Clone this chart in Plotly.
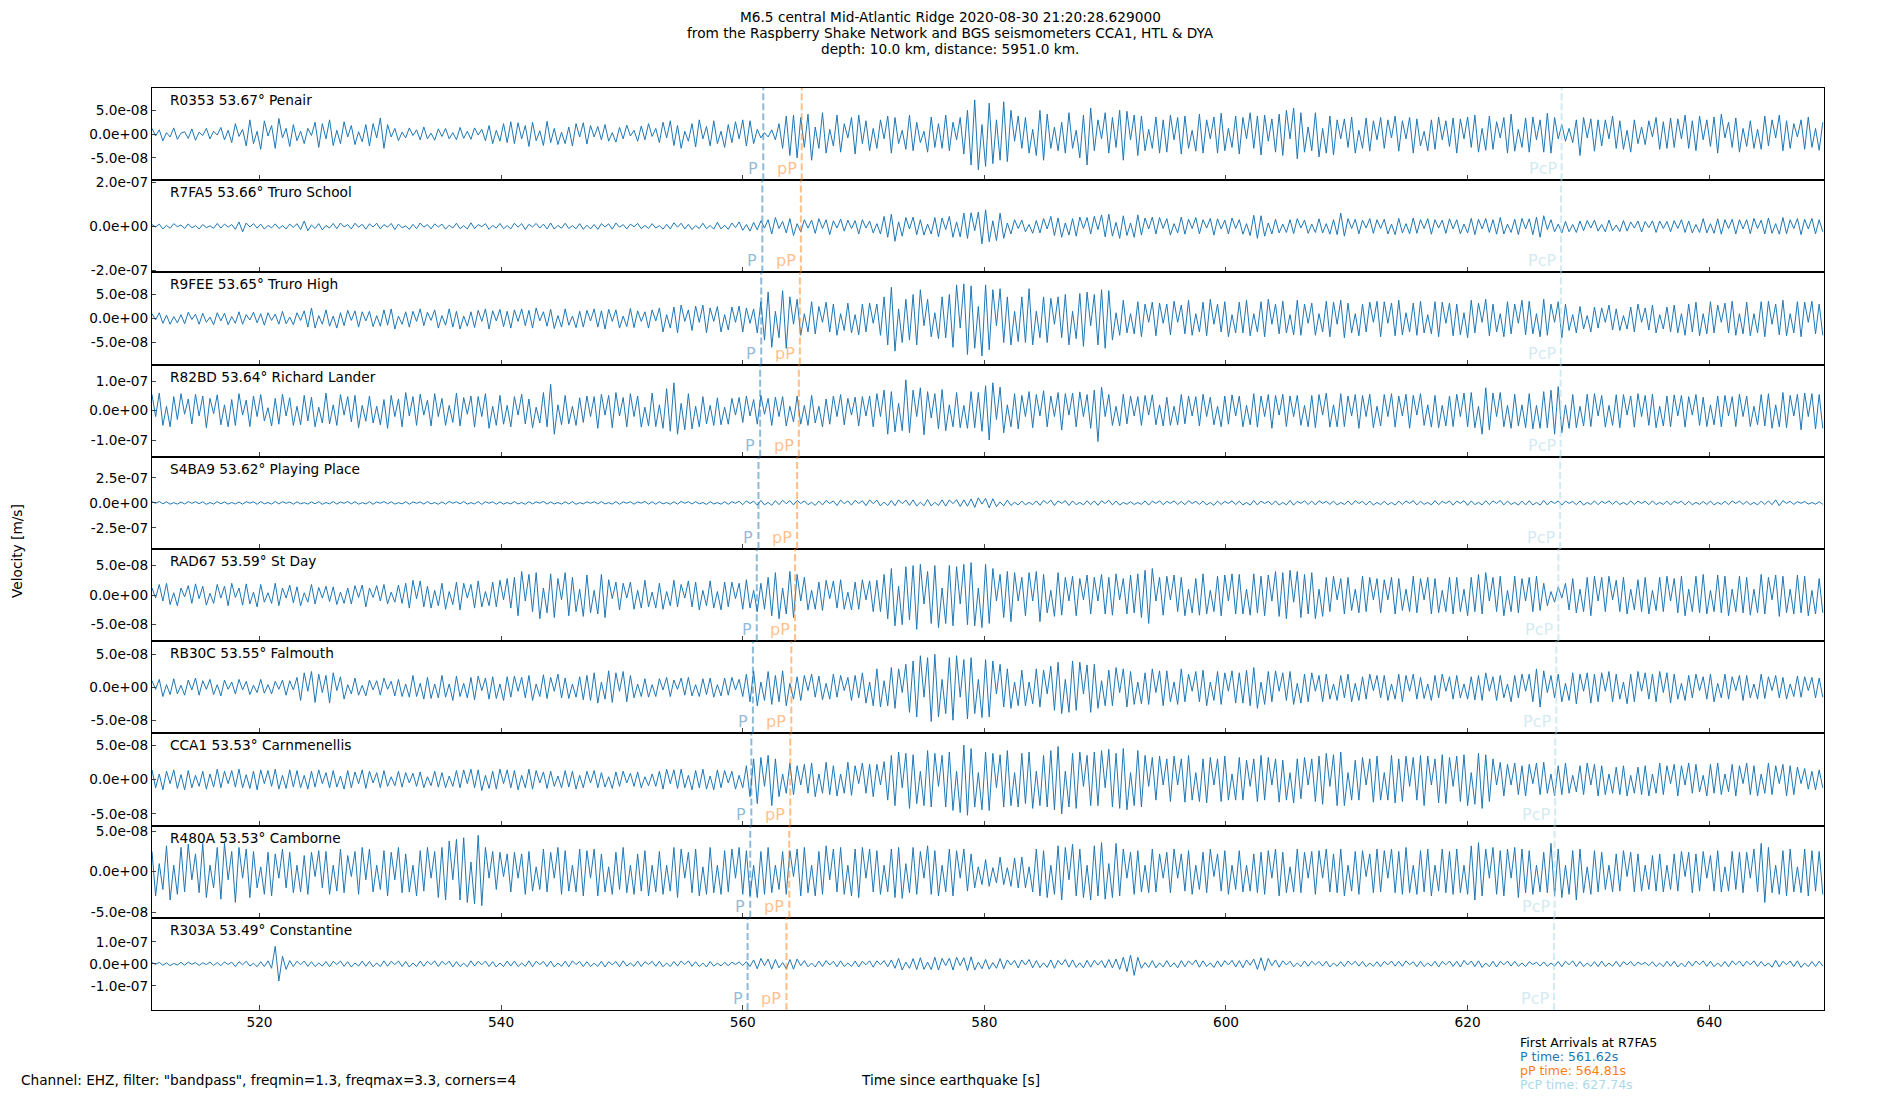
import plotly.graph_objects as go
from plotly.subplots import make_subplots

# sampling of the traces (seconds since the earthquake)
t_start = 511.1
dt = 0.3

stations = ["R0353", "R7FA5", "R9FEE", "R82BD", "S4BA9",
            "RAD67", "RB30C", "CCA1", "R480A", "R303A"]
distances = [53.67, 53.66, 53.65, 53.64, 53.62, 53.59, 53.55, 53.53, 53.53, 53.49]
places = ["Penair", "Truro School", "Truro High", "Richard Lander", "Playing Place",
          "St Day", "Falmouth", "Carnmenellis", "Camborne", "Constantine"]

p_times = [561.70, 561.62, 561.53, 561.44, 561.30, 561.16, 560.84, 560.71, 560.62, 560.40]
pp_times = [564.88, 564.81, 564.73, 564.64, 564.50, 564.33, 564.02, 563.93, 563.85, 563.62]
pcp_times = [627.78, 627.74, 627.72, 627.70, 627.66, 627.51, 627.34, 627.25, 627.20, 627.15]

tick_steps = [5e-8, 2e-7, 5e-8, 1e-7, 2.5e-7, 5e-8, 5e-8, 5e-8, 5e-8, 1e-7]

# velocity traces in nm/s
r0353 = [
    12,-4,9,-14,3,-6,13,-11,2,5,-9,11,-13,4,-3,12,-10,6,-2,14,
    -12,8,-18,22,-5,10,-25,30,-20,6,-32,28,-4,18,-30,33,-8,12,-26,20,
    -14,6,-20,12,-3,25,-28,22,-10,30,-24,8,-20,26,-6,18,-22,5,-16,20,
    -25,22,-8,34,-30,20,-6,12,-14,4,-8,13,-3,9,-12,15,-10,2,-13,11,
    -5,12,-10,3,-12,14,-9,6,-11,13,-2,10,-14,18,-20,8,-15,22,-18,26,
    -20,24,-10,18,-26,25,-14,7,-24,27,-18,12,-22,4,-20,15,-25,22,-6,24,
    -21,18,-6,16,-12,20,-15,3,-17,14,-10,19,-4,8,-15,17,-12,22,-5,12,
    -18,25,-8,28,-24,18,-30,6,-15,22,-27,30,-10,16,-25,28,-20,6,-28,20,
    -18,26,-10,30,-25,28,-20,10,-8,3,-6,9,-12,22,-30,38,-45,40,-50,35,
    -28,42,-55,15,-30,45,-40,10,-25,40,-38,22,-8,35,-42,40,-20,28,-35,12,
    -30,30,-10,38,-40,35,-20,8,-32,40,-35,25,-18,6,-38,36,-28,22,-30,40,
    -35,25,-12,35,-42,50,-65,72,-75,20,-68,65,-62,30,-55,68,-58,50,-15,38,
    -30,35,-40,10,-45,50,-55,42,-30,15,-35,25,-40,45,-30,8,-50,40,-65,55,
    -35,30,-10,45,-40,35,-28,50,-55,48,-12,40,-45,38,-35,10,-30,36,-40,30,
    -38,40,-12,35,-42,38,-30,8,-36,42,-40,30,-10,36,-40,44,-35,12,-28,38,
    -42,35,-10,45,-30,38,-44,40,-15,32,-38,42,-45,50,-10,55,-52,45,-38,15,
    -35,45,-48,12,-40,38,-44,30,-10,32,-28,36,-40,8,-30,34,-36,28,-12,35,
    -30,30,-8,38,-36,28,-10,35,-40,32,-25,6,-35,30,-32,36,-12,28,-26,34,
    -40,32,-10,36,-28,40,-38,12,-34,38,-32,26,-8,35,-40,42,-36,10,-28,34,
    -38,36,-12,30,-38,44,-40,35,-10,20,-15,12,-18,30,-45,35,-8,32,-36,30,
    -25,30,-10,38,-30,28,-32,8,-38,30,-20,15,-22,28,-6,35,-32,26,-30,34,
    -28,32,-10,40,-30,28,-35,38,-12,30,-26,36,-40,42,-8,25,-28,34,-38,12,
    -26,28,-30,10,-32,38,-25,30,-8,40,-35,28,-30,22,-6,30,-32,36,-28,12,
    -34,25,
]
r7fa5 = [
    8,-3,10,-12,4,-9,12,-2,6,-10,11,-7,3,-12,8,-6,2,-9,13,-8,
    10,-4,8,-14,20,-25,15,-3,12,-8,10,-13,4,-7,11,-10,3,-12,10,-5,
    12,-15,24,-20,6,-10,12,-16,4,-8,13,-11,15,-3,8,-12,14,-4,9,-13,
    11,-3,14,-12,8,-4,13,-15,10,-7,2,-14,9,-11,15,-4,8,-12,11,-3,
    10,-13,5,-8,14,-11,3,-12,16,-10,8,-2,12,-14,4,-8,13,-11,3,-12,
    14,-4,12,-15,9,-3,13,-8,10,-12,15,-13,4,-9,14,-10,3,-11,12,-14,
    5,-12,8,-14,12,-3,11,-13,15,-4,8,-12,10,-2,13,-11,4,-10,12,-8,
    3,-13,9,-12,16,-4,14,-12,9,-15,3,-10,14,-11,4,-13,18,-12,5,-14,
    15,-6,20,-18,8,-22,18,-16,25,-8,30,-35,40,-10,22,-30,35,-42,12,-25,
    30,-8,28,-32,35,-10,30,-38,25,-8,33,-22,28,-10,26,-35,30,-8,24,-30,
    12,-35,45,-50,55,-68,20,-45,40,-12,42,-38,30,-40,10,-35,40,-48,38,-15,
    45,-50,20,-48,60,-55,62,-20,65,-80,75,-70,25,-65,60,-55,15,-35,30,-10,
    28,-25,8,-32,26,-30,35,-12,45,-42,38,-50,15,-40,35,-45,42,-10,40,-35,
    45,-15,52,-48,55,-45,18,-55,48,-42,15,-50,52,-40,38,-12,42,-35,40,-10,
    35,-40,12,-30,42,-36,32,-10,40,-34,30,-8,36,-40,34,-12,28,-35,38,-10,
    30,-36,12,-42,50,-55,48,-45,15,-35,32,-30,10,-28,30,-33,35,-8,28,-32,
    10,-28,34,-30,12,-36,30,-38,60,-45,35,-10,32,-34,28,-8,35,-32,30,-10,
    32,-35,10,-38,36,-30,12,-34,38,-32,30,-10,35,-36,30,-8,28,-32,34,-12,
    30,-34,10,-30,36,-38,32,-12,35,-28,30,-36,40,-35,10,-28,32,-38,36,-12,
    34,-38,42,-50,48,-15,30,-25,10,-30,22,-25,8,-28,24,-20,26,-8,28,-22,
    8,-25,28,-20,6,-24,26,-22,20,-8,24,-26,22,-6,25,-28,24,-10,22,-25,
    26,-10,30,-28,24,-30,8,-28,35,-30,12,-32,34,-36,30,-10,32,-35,30,-12,
    30,-34,36,-10,28,-35,38,-32,12,-36,40,-34,30,-10,35,-38,32,-12,36,-34,
    30,-25,
]
r9fee = [
    10,-3,12,-10,7,-12,4,-9,8,-11,13,-2,9,-12,11,-8,3,-13,12,-5,
    11,-13,4,-10,14,-12,8,-3,13,-9,10,-14,12,-4,9,-12,15,-11,3,-13,
    12,-4,16,-18,22,-20,6,-12,18,-16,5,-20,12,-15,17,-4,16,-18,14,-5,
    15,-17,6,-16,18,-14,20,-22,5,-12,14,-18,15,-6,20,-15,13,-4,18,-20,
    6,-14,20,-18,15,-22,5,-16,14,-19,17,-6,20,-22,16,-5,19,-17,15,-20,
    18,-6,20,-15,17,-20,22,-5,14,-16,19,-21,6,-18,20,-14,5,-19,15,-18,
    17,-5,20,-18,16,-22,19,-6,18,-20,5,-17,21,-19,16,-6,14,-20,18,-5,
    22,-28,8,-20,24,-30,28,-6,18,-25,26,-8,28,-30,22,-6,25,-28,8,-24,
    24,-8,26,-28,22,-10,20,-30,35,-45,55,-60,15,-40,58,-62,45,-12,40,-35,
    10,-28,35,-32,25,-8,34,-28,30,-35,10,-25,32,-30,8,-34,30,-28,32,-10,
    30,-35,45,-55,65,-68,20,-50,40,-45,50,-55,60,-15,40,-38,12,-42,45,-40,
    50,-60,70,-20,72,-75,68,-62,25,-78,70,-65,60,-15,62,-50,45,-55,15,-48,
    45,-50,62,-55,15,-40,45,-50,42,-12,45,-40,50,-55,15,-42,52,-58,55,-15,
    50,-55,60,-62,58,-45,12,-35,38,-30,10,-32,35,-38,30,-8,34,-36,32,-10,
    30,-34,36,-8,28,-32,38,-35,10,-28,34,-36,40,-12,30,-28,35,-38,8,-30,
    34,-30,38,-36,10,-28,35,-38,40,-12,30,-32,36,-30,8,-34,38,-35,30,-10,
    32,-35,10,-28,36,-38,34,-12,38,-40,32,-30,10,-36,30,-28,34,-8,36,-38,
    35,-10,32,-36,38,-34,12,-28,32,-35,36,-30,8,-32,35,-38,34,-10,32,-36,
    30,-34,12,-40,38,-30,32,-8,40,-36,30,-28,10,-38,35,-32,30,-10,38,-34,
    36,-32,10,-38,40,-35,30,-8,35,-40,30,-25,8,-30,25,-22,6,-28,24,-20,
    22,-8,28,-24,20,-25,6,-22,24,-28,30,-8,22,-24,28,-30,8,-22,24,-28,
    28,-30,10,-35,30,-28,34,-36,10,-32,35,-30,28,-8,32,-30,36,-35,10,-32,
    34,-36,10,-30,35,-38,36,-12,30,-34,38,-36,10,-30,35,-38,34,-8,36,-32,
    30,-35,
]
r82bd = [
    55,-20,60,-50,15,-55,48,-30,58,-12,40,-45,56,-18,50,-58,42,-10,54,-48,
    20,-55,38,-50,58,-15,36,-54,50,-20,55,-35,10,-52,42,-46,56,-18,44,-50,
    15,-48,52,-35,46,-55,12,-42,60,-45,20,-50,55,-15,48,-38,52,-58,18,-36,
    50,-42,15,-48,38,-60,52,-20,40,-55,62,-18,48,-50,56,-15,36,-52,58,-20,
    42,-50,18,-40,60,-52,45,-12,50,-56,48,-20,58,-60,15,-50,52,-46,18,-55,
    48,-15,56,-45,40,-58,12,-42,62,-55,90,-80,20,-48,52,-45,15,-50,44,-40,
    50,-20,48,-60,56,-15,52,-58,62,-18,45,-55,58,-20,50,-56,12,-52,60,-54,
    20,-60,75,-70,95,-80,25,-65,58,-62,15,-55,48,-45,18,-50,44,-48,12,-46,
    42,-15,45,-40,50,-18,38,-46,52,-12,42,-50,46,-20,48,-52,15,-38,50,-46,
    18,-50,52,-42,15,-55,40,-46,50,-20,55,-48,42,-15,46,-52,48,-18,50,-55,
    58,-20,70,-80,65,-72,25,-68,105,-75,70,-20,78,-82,65,-25,58,-62,72,-68,
    20,-55,62,-58,18,-60,65,-58,62,-70,85,-100,95,-30,80,-75,20,-55,58,-62,
    52,-20,65,-58,55,-18,68,-55,50,-20,62,-66,58,-15,60,-55,64,-20,55,-60,
    70,-105,80,-20,55,-50,15,-52,56,-45,50,-18,48,-50,52,-15,54,-48,20,-52,
    46,-50,15,-48,55,-45,50,-18,48,-52,56,-20,46,-48,15,-55,50,-46,54,-18,
    50,-55,18,-48,58,-56,50,-20,55,-60,52,-15,56,-54,50,-20,52,-50,18,-55,
    52,-58,55,-15,60,-56,20,-55,58,-54,50,-18,55,-60,52,-20,56,-58,15,-52,
    55,-20,58,-56,50,-18,56,-60,52,-15,58,-50,20,-56,52,-58,18,-52,50,-54,
    56,-20,60,-55,62,-58,15,-80,78,-65,60,-20,62,-55,18,-60,56,-52,20,-58,
    58,-62,18,-60,65,-58,70,-80,82,-75,20,-60,55,-58,15,-52,56,-54,58,-18,
    52,-56,18,-50,54,-58,55,-15,50,-56,58,-20,52,-50,56,-58,15,-52,50,-55,
    54,-18,52,-56,48,-15,55,-50,46,-54,20,-48,50,-55,52,-18,48,-54,56,-20,
    50,-54,15,-48,55,-52,58,-60,20,-55,62,-58,52,-18,56,-65,60,-20,58,-62,
    55,-60,
]
s4ba9 = [
    12,-4,14,-9,11,-13,3,-12,9,-11,13,-4,12,-8,11,-14,4,-12,13,-9,
    10,-12,4,-11,9,-13,12,-3,11,-14,13,-9,4,-12,14,-11,12,-4,9,-13,
    11,-10,3,-12,10,-9,12,-14,4,-10,13,-12,9,-4,14,-10,12,-13,3,-11,
    12,-14,10,-4,13,-9,11,-12,3,-10,12,-13,10,-4,9,-12,13,-10,4,-14,
    10,-12,15,-4,11,-10,14,-12,3,-11,13,-15,12,-4,11,-13,10,-12,4,-11,
    13,-11,4,-14,12,-10,11,-3,15,-12,10,-11,4,-12,11,-10,13,-14,3,-10,
    11,-4,12,-10,14,-11,3,-12,13,-14,11,-4,12,-13,10,-3,14,-12,11,-13,
    12,-10,4,-13,11,-12,15,-4,12,-11,13,-10,4,-15,12,-11,3,-13,12,-14,
    12,-4,16,-18,20,-6,18,-22,25,-20,6,-24,22,-18,26,-8,22,-20,25,-6,
    20,-18,6,-25,18,-20,24,-6,20,-26,28,-8,20,-22,26,-6,22,-28,30,-8,
    28,-30,8,-26,24,-28,30,-8,28,-25,30,-32,8,-28,33,-30,6,-26,30,-32,
    30,-8,32,-35,30,-33,40,-45,50,-12,45,-50,42,-38,10,-30,28,-25,6,-20,
    18,-20,6,-18,20,-24,25,-6,28,-26,20,-5,22,-25,20,-18,5,-20,22,-18,
    20,-24,22,-6,26,-20,18,-22,5,-14,12,-16,4,-15,20,-22,18,-5,20,-18,
    15,-5,20,-16,14,-18,22,-6,16,-15,18,-20,5,-24,18,-16,15,-5,20,-17,
    18,-20,5,-22,24,-20,18,-6,15,-18,20,-22,5,-20,24,-22,16,-5,20,-16,
    18,-20,22,-5,16,-15,18,-20,4,-16,18,-20,22,-6,16,-20,18,-22,5,-17,
    16,-18,5,-22,18,-16,20,-5,22,-20,17,-15,5,-20,22,-18,16,-5,20,-22,
    18,-5,22,-24,20,-18,6,-20,22,-18,20,-5,24,-20,18,-16,5,-22,18,-20,
    22,-20,5,-22,24,-20,18,-6,20,-22,18,-5,15,-18,20,-22,5,-16,20,-18,
    16,-5,20,-15,18,-16,4,-18,20,-16,18,-5,16,-18,20,-17,5,-16,18,-20,
    17,-5,18,-20,16,-18,5,-15,14,-16,18,-20,5,-15,16,-18,20,-5,18,-15,
    16,-18,5,-20,18,-16,20,-18,30,-28,22,-5,16,-15,12,-4,14,-12,4,-13,
    12,-14,
]
rad67 = [
    12,-5,18,-10,20,-16,4,-18,12,-3,16,-14,19,-6,15,-17,3,-14,18,-5,
    15,-18,20,-4,12,-17,19,-15,5,-20,18,-12,4,-14,20,-18,12,-5,17,-13,
    14,-18,4,-12,18,-15,13,-5,15,-11,14,-16,5,-14,12,-15,16,-4,17,-20,
    12,-4,16,-10,18,-15,5,-12,17,-14,20,-22,25,-6,24,-20,15,-22,8,-18,
    20,-24,6,-16,22,-25,20,-5,18,-22,24,-20,6,-18,22,-20,25,-8,28,-22,
    30,-35,40,-10,35,-28,38,-40,12,-30,36,-38,28,-8,38,-35,30,-28,10,-36,
    34,-30,8,-32,35,-38,26,-6,22,-25,20,-5,22,-24,8,-22,25,-20,5,-22,
    20,-24,6,-18,25,-20,18,-5,24,-20,22,-25,8,-18,24,-22,6,-25,22,-20,
    22,-6,20,-24,26,-22,8,-28,20,-24,30,-35,38,-40,12,-32,40,-38,35,-10,
    30,-25,8,-24,22,-26,25,-6,24,-22,26,-24,5,-25,22,-24,26,-8,24,-28,
    25,-28,35,-40,45,-52,15,-50,48,-42,50,-58,52,-15,40,-48,50,-55,12,-48,
    50,-52,48,-15,52,-50,55,-52,12,-55,52,-48,45,-10,35,-38,40,-45,38,-10,
    30,-35,38,-10,40,-45,35,-30,8,-36,38,-34,30,-10,32,-35,28,-8,34,-32,
    30,-10,35,-32,30,-34,36,-8,28,-32,34,-30,36,-38,42,-48,45,-10,30,-34,
    32,-8,34,-28,30,-35,10,-30,28,-34,36,-32,8,-28,32,-35,34,-10,36,-32,
    35,-32,10,-34,36,-30,32,-35,34,-10,40,-36,38,-40,42,-12,40,-38,35,-32,
    38,-40,10,-36,30,-28,32,-8,28,-32,30,-26,10,-30,32,-28,30,-8,28,-30,
    26,-8,30,-32,28,-26,10,-28,32,-30,28,-8,30,-32,28,-30,8,-28,30,-32,
    30,-28,10,-35,30,-28,35,-32,38,-10,30,-28,32,-35,8,-28,32,-30,28,-10,
    30,-28,32,-26,20,-18,6,-12,14,-5,20,-25,28,-30,10,-28,30,-35,32,-10,
    30,-28,32,-8,25,-28,30,-32,10,-25,26,-28,30,-32,8,-26,30,-28,32,-10,
    28,-30,32,-35,10,-28,32,-30,35,-32,8,-28,34,-30,32,-35,10,-28,32,-30,
    30,-34,10,-30,35,-32,30,-8,34,-36,32,-30,10,-32,34,-30,32,-35,8,-32,
    28,-30,
]
rb30c = [
    10,-3,12,-14,4,-11,13,-10,3,-12,11,-4,14,-12,10,-3,12,-11,4,-13,
    11,-3,8,-10,12,-4,9,-11,3,-8,12,-9,4,-10,9,-3,11,-12,10,-4,
    15,-20,22,-6,24,-23,20,-8,18,-24,22,-5,16,-18,4,-10,14,-12,3,-13,
    11,-4,10,-12,14,-3,9,-13,12,-14,5,-15,18,-14,6,-18,15,-17,5,-16,
    18,-15,5,-20,17,-14,6,-16,15,-19,17,-5,14,-18,16,-17,5,-20,16,-15,
    17,-6,15,-16,18,-20,5,-14,19,-17,15,-6,20,-16,14,-17,5,-15,16,-19,
    18,-20,22,-24,8,-18,25,-23,22,-6,24,-22,18,-16,5,-14,13,-15,4,-14,
    13,-4,15,-14,11,-3,14,-12,15,-13,4,-14,13,-11,14,-15,4,-13,14,-12,
    15,-4,12,-14,20,-22,25,-28,8,-20,24,-26,18,-22,25,-28,6,-18,16,-20,
    18,-5,20,-15,17,-19,6,-18,20,-15,18,-5,15,-20,18,-16,22,-24,8,-28,
    28,-30,10,-28,30,-32,28,-8,35,-38,40,-45,48,-15,45,-52,50,-45,12,-40,
    45,-50,48,-15,42,-48,45,-40,12,-46,42,-45,40,-10,35,-30,28,-32,8,-28,
    26,-28,8,-25,28,-30,26,-10,32,-35,38,-40,12,-38,40,-35,38,-10,34,-38,
    35,-32,10,-28,26,-28,30,-8,28,-30,24,-26,8,-25,22,-26,28,-8,25,-28,
    25,-22,8,-26,28,-22,20,-6,24,-22,26,-28,8,-20,24,-26,22,-6,25,-24,
    22,-24,26,-28,30,-32,8,-26,24,-22,25,-6,22,-20,24,-26,6,-24,20,-22,
    22,-6,18,-22,20,-18,5,-20,18,-16,20,-22,6,-20,16,-18,20,-5,18,-16,
    18,-20,5,-18,20,-22,18,-6,20,-18,15,-17,5,-20,18,-16,20,-6,16,-18,
    18,-16,5,-18,16,-19,18,-20,22,-6,16,-20,18,-16,5,-22,18,-16,20,-6,
    20,-22,28,-30,25,-8,18,-16,20,-22,6,-20,22,-25,20,-6,22,-24,20,-22,
    22,-6,24,-22,20,-18,8,-25,20,-22,24,-6,22,-18,20,-22,24,-8,22,-24,
    20,-18,6,-20,18,-16,20,-5,16,-18,20,-22,6,-16,20,-18,16,-5,18,-20,
    18,-16,5,-18,20,-17,16,-5,18,-16,15,-18,5,-14,17,-15,16,-5,15,-16,
    14,-15,
]
cca1 = [
    14,-12,8,-15,12,-6,14,-13,7,-15,13,-12,6,-10,12,-14,8,-11,15,-12,
    12,-6,13,-11,15,-12,7,-13,12,-15,14,-6,13,-10,15,-14,6,-13,14,-11,
    13,-12,6,-14,12,-11,14,-6,10,-12,13,-11,5,-14,13,-12,11,-6,14,-13,
    12,-5,10,-12,13,-10,4,-9,12,-11,10,-5,9,-10,11,-12,4,-9,12,-11,
    10,-12,5,-10,13,-12,14,-6,15,-12,14,-16,6,-13,12,-14,15,-6,14,-12,
    13,-15,6,-12,15,-14,13,-5,11,-13,12,-10,5,-12,13,-11,12,-14,6,-12,
    12,-5,13,-12,10,-11,4,-13,11,-10,12,-5,9,-10,11,-12,4,-9,8,-10,
    12,-14,15,-6,14,-13,15,-12,6,-15,13,-12,15,-14,5,-15,14,-12,13,-5,
    12,-14,6,-12,20,-25,30,-35,32,-10,35,-38,30,-25,8,-20,24,-22,20,-8,
    22,-20,24,-25,8,-20,25,-22,20,-24,8,-20,25,-23,20,-6,24,-20,22,-25,
    22,-8,26,-30,35,-38,40,-12,38,-42,36,-35,12,-38,42,-40,38,-10,35,-40,
    40,-45,12,-48,50,-52,45,-40,10,-44,40,-45,38,-12,36,-40,42,-38,10,-40,
    38,-35,40,-42,12,-38,35,-40,42,-44,48,-50,12,-40,38,-42,40,-10,35,-38,
    40,-38,42,-12,44,-40,38,-42,45,-44,10,-38,42,-40,35,-10,32,-30,34,-8,
    30,-32,34,-8,30,-33,35,-30,10,-32,30,-34,32,-8,30,-32,34,-30,8,-30,
    32,-30,28,-10,30,-32,35,-30,32,-8,30,-33,28,-30,10,-34,30,-28,32,-8,
    30,-32,34,-36,38,-10,36,-38,40,-38,10,-30,28,-30,32,-8,30,-33,34,-30,
    10,-30,35,-34,30,-32,34,-10,32,-30,35,-38,34,-8,30,-34,36,-35,32,-10,
    34,-32,36,-38,10,-36,38,-42,36,-32,30,-8,25,-24,22,-8,24,-22,20,-24,
    22,-6,24,-22,25,-20,8,-24,20,-22,24,-20,6,-18,20,-22,24,-8,22,-24,
    20,-22,8,-20,18,-22,20,-24,6,-20,18,-22,20,-24,8,-20,24,-22,20,-6,
    22,-24,20,-8,24,-20,22,-18,6,-24,22,-20,24,-22,8,-18,22,-24,20,-6,
    24,-22,20,-24,8,-20,24,-22,20,-6,22,-24,20,-22,18,-6,16,-14,12,-15,
    14,-12,
]
r480a = [
    25,-30,10,-22,32,-35,8,-28,30,-25,34,-10,22,-26,35,-32,8,-20,30,-34,
    35,-10,25,-38,30,-8,28,-32,25,-20,6,-28,24,-30,22,-8,28,-20,24,-26,
    8,-25,20,-28,24,-6,26,-20,25,-28,8,-24,28,-26,20,-6,25,-28,30,-10,
    28,-25,8,-22,26,-30,24,-10,30,-26,22,-25,8,-30,26,-24,30,-8,25,-32,
    30,-35,38,-10,40,-35,42,-38,12,-40,45,-42,30,-8,25,-22,24,-6,22,-25,
    24,-8,22,-28,25,-24,6,-22,28,-25,24,-8,30,-28,26,-24,8,-25,28,-30,
    26,-8,28,-30,22,-25,6,-28,24,-22,30,-26,8,-28,22,-24,26,-30,8,-25,
    25,-28,8,-24,30,-32,28,-8,24,-26,28,-30,6,-28,30,-26,8,-28,26,-25,
    28,-8,30,-28,26,-30,8,-32,25,-28,30,-26,8,-22,25,-28,26,-6,28,-30,
    30,-26,8,-30,25,-28,32,-10,28,-25,30,-28,8,-30,28,-32,30,-8,28,-25,
    26,-28,8,-25,28,-32,30,-33,10,-26,30,-28,25,-8,32,-28,26,-30,8,-25,
    28,-30,26,-8,28,-24,22,-20,6,-16,15,-18,5,-14,18,-16,5,-18,17,-20,
    18,-20,6,-25,28,-30,26,-32,8,-28,32,-35,30,-10,34,-30,28,-32,8,-35,
    32,-30,36,-34,10,-32,35,-30,28,-8,24,-28,26,-25,8,-26,28,-25,22,-8,
    24,-26,28,-8,22,-24,26,-28,8,-22,24,-26,28,-6,22,-24,26,-28,8,-22,
    26,-25,8,-24,22,-26,24,-28,26,-8,28,-30,24,-26,6,-25,28,-26,24,-8,
    25,-28,26,-8,28,-25,22,-26,28,-30,8,-24,25,-28,26,-6,22,-26,28,-25,
    26,-8,28,-26,25,-28,30,-26,8,-28,26,-25,28,-30,8,-24,28,-26,25,-28,
    28,-26,8,-28,32,-35,36,-30,28,-8,30,-28,26,-30,28,-8,30,-32,28,-26,
    26,-28,8,-25,24,-26,35,-30,28,-32,8,-28,26,-35,28,-26,6,-28,26,-25,
    24,-22,8,-25,22,-24,26,-6,24,-25,22,-24,8,-22,20,-24,22,-25,8,-22,
    22,-24,25,-6,24,-26,22,-24,25,-8,20,-24,26,-25,6,-24,25,-22,24,-26,
    24,-8,28,-25,35,-38,30,-26,8,-28,26,-30,28,-25,6,-26,28,-30,26,-24,
    25,-28,
]
r303a = [
    6,-2,7,-6,5,-8,2,-5,7,-6,8,-2,6,-7,5,-3,8,-7,6,-8,
    9,-3,8,-12,10,-4,12,-10,3,-13,10,-12,14,-20,80,-78,35,-25,15,-12,
    12,-4,13,-11,10,-12,4,-10,11,-13,12,-3,13,-11,10,-14,4,-10,13,-11,
    11,-13,4,-12,14,-11,12,-3,13,-12,11,-14,4,-12,13,-11,12,-4,14,-12,
    12,-4,13,-14,10,-12,3,-13,14,-10,12,-4,13,-12,10,-14,4,-12,13,-10,
    13,-12,4,-11,14,-13,12,-3,11,-12,13,-14,4,-11,12,-13,14,-3,11,-12,
    10,-12,3,-11,12,-14,10,-4,11,-13,14,-10,4,-11,13,-12,10,-3,12,-11,
    12,-13,4,-12,11,-10,13,-3,14,-11,10,-12,4,-14,11,-10,3,-9,7,-8,
    8,-3,9,-7,10,-12,18,-22,25,-8,22,-24,20,-18,6,-22,20,-24,22,-8,
    15,-13,4,-14,13,-12,15,-5,12,-13,14,-12,4,-12,13,-14,12,-4,14,-15,
    14,-4,15,-13,18,-20,25,-28,8,-20,24,-26,28,-25,8,-26,30,-28,25,-8,
    26,-28,30,-8,28,-30,32,-28,8,-22,20,-24,6,-20,24,-22,18,-5,16,-18,
    18,-5,20,-18,15,-17,5,-16,18,-20,16,-5,20,-15,18,-16,5,-18,16,-15,
    16,-5,15,-17,20,-18,22,-25,30,-35,40,-52,30,-20,6,-16,15,-18,5,-14,
    15,-14,5,-18,15,-13,14,-4,18,-15,14,-12,5,-16,14,-13,15,-5,16,-14,
    15,-17,18,-6,22,-25,28,-30,25,-8,18,-15,14,-5,12,-13,4,-12,13,-11,
    12,-4,11,-10,12,-14,4,-11,10,-12,13,-4,12,-10,11,-13,4,-11,10,-12,
    11,-4,13,-10,12,-11,14,-4,10,-13,11,-12,4,-10,12,-14,11,-4,13,-11,
    12,-14,16,-5,13,-12,14,-16,4,-13,12,-14,11,-4,13,-10,12,-11,4,-12,
    10,-3,8,-10,9,-11,4,-10,11,-13,12,-4,14,-12,11,-13,4,-11,10,-12,
    13,-12,4,-11,12,-13,10,-4,11,-10,8,-3,7,-8,10,-12,4,-13,12,-10,
    12,-14,4,-13,12,-10,13,-4,14,-11,12,-13,4,-12,11,-13,14,-4,13,-11,
    12,-4,14,-12,11,-10,4,-15,16,-14,12,-4,13,-12,14,-16,4,-13,11,-12,
    12,-10,
]

traces = [r0353, r7fa5, r9fee, r82bd, s4ba9, rad67, rb30c, cca1, r480a, r303a]

# half height of each panel's y range (m/s)
y_half = [9.7e-8, 2.1e-7, 9.6e-8, 1.57e-7, 4.6e-7, 7.8e-8, 7.0e-8, 6.7e-8, 5.7e-8, 2.1e-7]

FONT = "DejaVu Sans"
FS = 13.7
C0 = "#1f77b4"
P_COL = "rgba(31,119,180,0.5)"
PP_COL = "rgba(255,127,14,0.5)"
PCP_COL = "rgba(173,216,230,0.55)"

n = len(stations)
fig = make_subplots(rows=n, cols=1, shared_xaxes=True, vertical_spacing=0)

for i in range(n):
    row = i + 1
    sfx = "" if row == 1 else str(row)
    vals = traces[i]
    t = [t_start + dt * k for k in range(len(vals))]
    fig.add_trace(go.Scatter(x=t, y=[v * 1e-9 for v in vals], mode="lines",
                             line=dict(color=C0, width=1), showlegend=False,
                             hoverinfo="skip"), row=row, col=1)

    step = tick_steps[i]
    tv = [step, 0.0, -step]
    fig.update_yaxes(range=[-y_half[i], y_half[i]], tickvals=tv,
                     ticktext=[f"{v:.1e}" for v in tv],
                     ticks="inside", ticklen=4, showline=True, mirror=True,
                     linecolor="black", linewidth=1, showgrid=False, zeroline=False,
                     tickfont=dict(family=FONT, size=FS, color="black"),
                     row=row, col=1)
    fig.update_xaxes(range=[511.1, 649.5], tickvals=list(range(520, 641, 20)),
                     ticks="inside", ticklen=5, showline=True, mirror=True,
                     linecolor="black", linewidth=1, showgrid=False, zeroline=False,
                     showticklabels=(row == n),
                     tickfont=dict(family=FONT, size=FS, color="black"),
                     row=row, col=1)

    # arrival markers
    for tt, col, lab in [(p_times[i], P_COL, "P"), (pp_times[i], PP_COL, "pP"),
                         (pcp_times[i], PCP_COL, "PcP")]:
        fig.add_shape(type="line", x0=tt, x1=tt, y0=0, y1=1,
                      xref="x" + sfx, yref="y" + sfx + " domain",
                      line=dict(color=col, width=2, dash="7px,3px"))
        fig.add_annotation(x=tt, y=0, xref="x" + sfx, yref="y" + sfx + " domain",
                           text=lab, showarrow=False, xanchor="right", yanchor="bottom",
                           xshift=-3, yshift=0,
                           font=dict(family=FONT, size=16, color=col))

    fig.add_annotation(x=0, y=1, xref="x" + sfx + " domain", yref="y" + sfx + " domain",
                       text=f"{stations[i]} {distances[i]:.2f}° {places[i]}",
                       showarrow=False, xanchor="left", yanchor="top",
                       xshift=16, yshift=-2,
                       font=dict(family=FONT, size=FS, color="black"))

title_lines = ["M6.5 central Mid-Atlantic Ridge 2020-08-30 21:20:28.629000",
               "from the Raspberry Shake Network and BGS seismometers CCA1, HTL & DYA",
               "depth: 10.0 km, distance: 5951.0 km."]

# the page body adds an 8 px margin, so the figure is drawn 8 px in from the corner
OFF = 8
W, H = 1900 - 2 * OFF, 1100 - 2 * OFF
# plot area in screen pixels: x 152..1824, y 88..1010
L, T = 152 - OFF, 88 - OFF
R, B = W - (1824 - OFF), H - (1010 - OFF)
pw, ph = W - L - R, H - T - B


def px(x):
    return (x - OFF - L) / pw


def py(y):
    return (H - B - (y - OFF)) / ph


for k, line in enumerate(title_lines):
    fig.add_annotation(x=px(950), y=py(17 + 16 * k), xref="paper", yref="paper",
                       text=line, showarrow=False, xanchor="center", yanchor="middle",
                       font=dict(family=FONT, size=FS, color="black"))

fig.add_annotation(x=px(950), y=py(1080), xref="paper", yref="paper",
                   text="Time since earthquake [s]", showarrow=False,
                   xanchor="center", yanchor="middle",
                   font=dict(family=FONT, size=FS, color="black"))
fig.add_annotation(x=px(19), y=py(1080), xref="paper", yref="paper",
                   text='Channel: EHZ, filter: "bandpass", freqmin=1.3, freqmax=3.3, corners=4',
                   showarrow=False, xanchor="left", yanchor="middle",
                   font=dict(family=FONT, size=FS, color="black"))
fig.add_annotation(x=px(17), y=py(551), xref="paper", yref="paper",
                   text="Velocity [m/s]", showarrow=False, textangle=-90,
                   xanchor="center", yanchor="middle",
                   font=dict(family=FONT, size=FS, color="black"))

arrivals = [("First Arrivals at R7FA5", "black"),
            ("P time: 561.62s", C0),
            ("pP time: 564.81s", "#ff7f0e"),
            ("PcP time: 627.74s", "#add8e6")]
for k, (txt, col) in enumerate(arrivals):
    fig.add_annotation(x=px(1519), y=py(1042 + 14 * k), xref="paper", yref="paper",
                       text=txt, showarrow=False, xanchor="left", yanchor="middle",
                       borderpad=0,
                       font=dict(family=FONT, size=12.5, color=col))

fig.update_layout(width=W, height=H, margin=dict(l=L, r=R, t=T, b=B),
                  paper_bgcolor="white", plot_bgcolor="white",
                  font=dict(family=FONT, size=FS, color="black"),
                  showlegend=False)

fig.write_html("out.html")
